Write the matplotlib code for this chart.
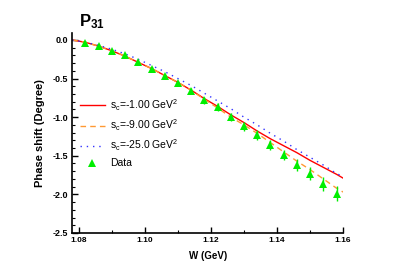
import numpy as np
import matplotlib
matplotlib.use("Agg")
import matplotlib.pyplot as plt
from matplotlib.ticker import MultipleLocator
from matplotlib.lines import Line2D

plt.rcParams['font.family'] = ['Liberation Sans', 'DejaVu Sans']
plt.rcParams['axes.unicode_minus'] = False
plt.rcParams['mathtext.fontset'] = 'custom'
plt.rcParams['mathtext.rm'] = 'Liberation Sans'
plt.rcParams['mathtext.bf'] = 'Liberation Sans:bold'

# data
W_data = [1.082, 1.086, 1.090, 1.094, 1.098, 1.102, 1.106, 1.110, 1.114, 1.118,
          1.122, 1.126, 1.130, 1.134, 1.138, 1.142, 1.146, 1.150, 1.154, 1.158]
delta_data = [-0.035, -0.078, -0.14, -0.20, -0.29, -0.38, -0.47, -0.56, -0.66, -0.78,
              -0.87, -1.00, -1.12, -1.23, -1.36, -1.49, -1.62, -1.73, -1.86, -1.99]
delta_err = [0.02, 0.02, 0.025, 0.025, 0.03, 0.03, 0.035, 0.035, 0.04, 0.045,
             0.05, 0.05, 0.055, 0.06, 0.065, 0.07, 0.08, 0.085, 0.09, 0.1]

W_curve = [1.078, 1.082, 1.086, 1.090, 1.094, 1.098, 1.102, 1.106, 1.110, 1.114,
           1.118, 1.122, 1.126, 1.130, 1.134, 1.138, 1.142, 1.146, 1.150, 1.154,
           1.158, 1.160]
delta_sc1 = [0.0, -0.03, -0.08, -0.14, -0.21, -0.29, -0.37, -0.46, -0.55, -0.65,
             -0.76, -0.86, -0.97, -1.07, -1.18, -1.28, -1.37, -1.46, -1.56, -1.65,
             -1.74, -1.79]
delta_sc9 = [0.0, -0.03, -0.08, -0.14, -0.21, -0.29, -0.37, -0.46, -0.55, -0.65,
             -0.77, -0.88, -1.00, -1.10, -1.21, -1.33, -1.45, -1.57, -1.68, -1.80,
             -1.92, -1.97]
delta_sc25 = [0.0, -0.03, -0.07, -0.12, -0.18, -0.25, -0.33, -0.41, -0.50, -0.59,
              -0.69, -0.79, -0.89, -1.00, -1.10, -1.21, -1.31, -1.42, -1.52, -1.62,
              -1.73, -1.77]

labels = [r"s$_\mathrm{c}$=-1.00 GeV$^2$",
          r"s$_\mathrm{c}$=-9.00 GeV$^2$",
          r"s$_\mathrm{c}$=-25.0 GeV$^2$",
          "Data"]

GREEN = '#00ee00'


def main():
    fig = plt.figure(figsize=(3.99, 2.80), dpi=100)
    ax = fig.add_axes([0.181, 0.168, 0.679, 0.714])

    l1, = ax.plot(W_curve, delta_sc1, color='red', lw=1.0)
    l2, = ax.plot(W_curve, delta_sc9, color='#ff9933', lw=1.0, ls=(0, (4, 3)))
    l3, = ax.plot(W_curve, delta_sc25, color='#3333ff', lw=1.0, ls=(0, (1, 3.5)))
    ax.errorbar(W_data, delta_data, yerr=delta_err, fmt='^', color=GREEN,
                ms=5.5, mew=0, elinewidth=1.0, capsize=2.5, capthick=1.0)
    data_handle = Line2D([], [], ls='none', marker='^', color=GREEN, ms=5.5, mew=0)

    ax.set_xlim(1.078, 1.16)
    ax.set_ylim(-2.5, 0.09)
    ax.xaxis.set_major_locator(MultipleLocator(0.02))
    ax.xaxis.set_minor_locator(MultipleLocator(0.01))
    ax.yaxis.set_major_locator(MultipleLocator(0.5))
    ax.yaxis.set_minor_locator(MultipleLocator(0.1))
    ax.xaxis.set_major_formatter(plt.FormatStrFormatter('%.2f'))
    ax.yaxis.set_major_formatter(plt.FormatStrFormatter('%.1f'))

    for side in ['top', 'right']:
        ax.spines[side].set_visible(False)
    for side in ['left', 'bottom']:
        ax.spines[side].set_linewidth(1.2)
    ax.tick_params(which='major', direction='in', length=4, width=1.0, pad=3)
    ax.tick_params(which='minor', direction='in', length=2.5, width=0.8)
    ax.tick_params(axis='x', labelsize=6)
    ax.tick_params(axis='y', labelsize=6.5)
    for lab in ax.get_xticklabels() + ax.get_yticklabels():
        lab.set_fontweight('bold')

    ax.set_xlabel("W (GeV)", fontsize=7, fontweight='bold', labelpad=5)
    ax.set_ylabel("Phase shift (Degree)", fontsize=8, fontweight='bold', labelpad=5)
    ax.text(0.025, 1.01, r"$\mathbf{P_{31}}$", transform=ax.transAxes,
            fontsize=12, fontweight='bold', va='bottom')

    ax.legend([l1, l2, l3, data_handle], labels, loc='upper left',
              bbox_to_anchor=(0.0, 0.715), frameon=False,
              fontsize=7.5, handlelength=2.4, handletextpad=0.5, labelspacing=0.45,
              borderaxespad=0.3)

    fig.savefig("out.png", dpi=100)


if __name__ == "__main__":
    main()
